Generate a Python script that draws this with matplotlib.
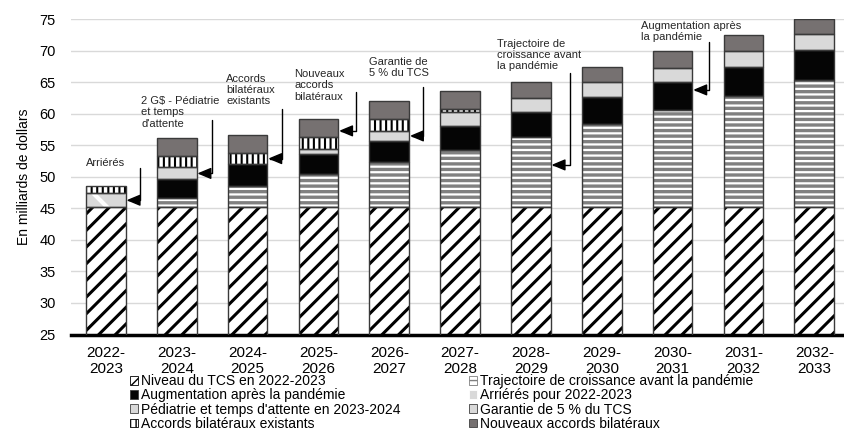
import numpy as np
import matplotlib
matplotlib.use("Agg")
import matplotlib.pyplot as plt
import matplotlib.patches as mpatches

plt.rcParams['font.family'] = ['Liberation Sans', 'DejaVu Sans']

annees = ['2022-\n2023', '2023-\n2024', '2024-\n2025', '2025-\n2026', '2026-\n2027', '2027-\n2028',
          '2028-\n2029', '2029-\n2030', '2030-\n2031', '2031-\n2032', '2032-\n2033']
niveau = [45.2, 45.2, 45.2, 45.2, 45.2, 45.2, 45.2, 45.2, 45.2, 45.2, 45.2]
trajectoire = [0, 1.5, 3.3, 5.2, 7.2, 9.1, 11.1, 13.2, 15.4, 17.7, 20.2]
augmentation = [0, 2.9, 3.5, 3.2, 3.3, 3.8, 4.0, 4.3, 4.4, 4.6, 4.7]
arrieres = [2.2, 0, 0, 0, 0, 0, 0, 0, 0, 0, 0]
pediatrie = [0, 1.9, 0, 0, 0, 0, 0, 0, 0, 0, 0]
garantie = [0, 0, 0, 0.9, 1.6, 2.2, 2.2, 2.3, 2.3, 2.5, 2.5]
existants = [1.2, 1.8, 1.8, 1.8, 1.9, 0.5, 0, 0, 0, 0, 0]
nouveaux = [0, 2.8, 2.8, 2.9, 2.8, 2.9, 2.5, 2.5, 2.6, 2.5, 2.5]

# (nom, valeurs, couleur, hachure, couleur hachure, epaisseur hachure)
series = [
    ('Niveau du TCS en 2022-2023', niveau, 'white', '//', 'black', 2.2),
    ('Trajectoire de croissance avant la pandémie', trajectoire, 'white', '---', '#808080', 2.4),
    ('Augmentation après la pandémie', augmentation, '#050505', None, None, 1.0),
    ('Arriérés pour 2022-2023', arrieres, '#d9d9d9', '\\', 'white', 3.0),
    ('Pédiatrie et temps d\'attente en 2023-2024', pediatrie, '#d9d9d9', None, None, 1.0),
    ('Garantie de 5 % du TCS', garantie, '#d9d9d9', None, None, 1.0),
    ('Accords bilatéraux existants', existants, 'white', '|||', 'black', 1.5),
    ('Nouveaux accords bilatéraux', nouveaux, '#767171', None, None, 1.0),
]

# annotations: texte, x texte, y texte (haut), barre, y pointe, x coude, y haut du trait
notes = [
    ('Arriérés', -0.01, 53.0, 0, 46.3, 0.48, 51.35, 'center'),
    ('2 G$ - Pédiatrie\net temps\nd\'attente', 0.50, 62.8, 1, 50.55, 1.50, 59.1, 'left'),
    ('Accords\nbilatéraux\nexistants', 1.70, 66.4, 2, 52.9, 2.49, 60.8, 'left'),
    ('Nouveaux\naccords\nbilatéraux', 2.66, 67.1, 3, 57.3, 3.53, 63.5, 'left'),
    ('Garantie de\n5 % du TCS', 3.72, 69.0, 4, 56.5, 4.47, 64.2, 'left'),
    ('Trajectoire de\ncroissance avant\nla pandémie', 5.52, 71.9, 6, 51.9, 6.55, 66.5, 'left'),
    ('Augmentation après\nla pandémie', 7.55, 74.7, 8, 63.8, 8.51, 71.4, 'left'),
]

fig = plt.figure(figsize=(8.44, 4.32), dpi=100)
ax = fig.add_axes([71 / 844, 97.5 / 432, 773 / 844, 315.2 / 432])

x = np.arange(len(annees))
largeur = 0.56
bas = np.zeros(len(annees))
poignees = []
for nom, vals, face, hach, hcol, hlw in series:
    vals = np.array(vals, dtype=float)
    idx = vals > 0
    with plt.rc_context({'hatch.linewidth': hlw}):
        barres = ax.bar(x[idx], vals[idx], largeur, bottom=bas[idx], color=face, hatch=hach,
                        edgecolor=hcol if hcol else face, linewidth=0, zorder=2)
        for b in barres:
            if hasattr(b, 'set_hatch_linewidth'):
                b.set_hatch_linewidth(hlw)
        p = mpatches.Patch(facecolor=face, hatch=hach, edgecolor=hcol if hcol else '#404040',
                           linewidth=0.6, label=nom)
        if hasattr(p, 'set_hatch_linewidth'):
            p.set_hatch_linewidth(min(hlw, 1.2))
    poignees.append(p)
    ax.bar(x[idx], vals[idx], largeur, bottom=bas[idx], fill=False, edgecolor='#3a3a3a',
           linewidth=1.0, zorder=3)
    bas = bas + vals

for texte, tx, ty, barre, ypt, xc, yc, ha in notes:
    ax.text(tx, ty, texte, fontsize=8, ha=ha, va='top', color='#262626', linespacing=1.15)
    ax.annotate('', xy=(barre + largeur / 2 + 0.01, ypt), xytext=(xc, yc),
                arrowprops=dict(arrowstyle='-|>,head_length=0.6,head_width=0.25',
                                connectionstyle='angle,angleA=90,angleB=0,rad=0',
                                color='black', lw=1.0, shrinkA=0, shrinkB=0, mutation_scale=14))

ax.set_xlim(-0.493, 10.42)
ax.set_ylim(25, 75)
ax.set_yticks(np.arange(25, 76, 5))
ax.set_xticks(x)
ax.set_xticklabels(annees, fontsize=11, linespacing=1.25)
ax.tick_params(axis='y', labelsize=10.5, length=0, pad=11)
ax.tick_params(axis='x', length=0, pad=8)
ax.yaxis.grid(True, color='#d9d9d9', lw=1)
ax.set_axisbelow(True)
for s in ['top', 'right', 'left']:
    ax.spines[s].set_visible(False)
ax.spines['bottom'].set_linewidth(2.5)
ax.spines['bottom'].set_color('black')
ax.set_ylabel('En milliards de dollars', fontsize=10, labelpad=6)

ordre = [0, 2, 4, 6, 1, 3, 5, 7]
fig.legend([poignees[i] for i in ordre], [poignees[i].get_label() for i in ordre],
           ncol=2, loc='upper left', bbox_to_anchor=(0.154, 0.134), frameon=False, fontsize=10,
           handlelength=0.6, handleheight=0.6, handletextpad=0.2, labelspacing=0.02,
           columnspacing=4.9, borderaxespad=0, borderpad=0)

fig.savefig('out.png', dpi=100)
